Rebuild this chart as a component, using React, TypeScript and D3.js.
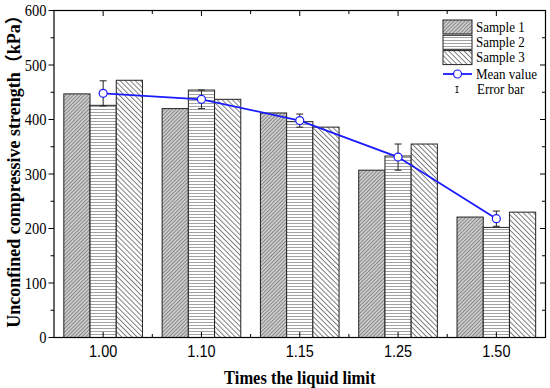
import React from 'react';
import * as d3 from 'd3';

const categories = ['1.00', '1.10', '1.15', '1.25', '1.50'];
const sampleNames = ['Sample 1', 'Sample 2', 'Sample 3'];
const sample1 = [447, 420, 412, 307, 221];
const sample2 = [426, 454, 396, 333, 202];
const sample3 = [472, 437, 386, 355, 230];
const meanValues = [448, 437, 398, 331, 218];
const errorValues = [23, 17, 12, 24, 14];
const yTicks = [0, 100, 200, 300, 400, 500, 600];
const yMinorTicks = [50, 150, 250, 350, 450, 550];

const W = 550;
const H = 388;
const margin = { top: 10.5, right: 4.5, bottom: 50.5, left: 54 };
const serif = '"Times New Roman", "Liberation Serif", "Noto Sans CJK SC", serif';
const sans = 'Arial, "Liberation Sans", sans-serif';
const blue = '#1a1aff';

// text that is a bit taller than wide, as in the source figure
function Label(props: { x: number; y: number; anchor?: string; family: string; size: number; weight?: string; sy?: number; children: React.ReactNode }) {
  const { x, y, anchor = 'start', family, size, weight = 'normal', sy = 1.12, children } = props;
  return (
    <text transform={`translate(${x},${y}) scale(1,${sy})`} textAnchor={anchor}
      fontFamily={family} fontSize={size} fontWeight={weight} fill="#000">{children}</text>
  );
}

export default function App() {
  const left = margin.left;
  const right = W - margin.right;
  const top = margin.top;
  const bottom = H - margin.bottom;

  const x = d3.scaleBand<string>().domain(categories).range([left, right]).padding(0);
  const bw = x.bandwidth();
  const xs = d3.scaleBand<string>().domain(sampleNames).range([bw * 0.1, bw * 0.9]).padding(0);
  const y = d3.scaleLinear().domain([0, 600]).range([bottom, top]);

  const series = [sample1, sample2, sample3];
  const fills = ['url(#pat1)', 'url(#pat2)', 'url(#pat3)'];

  const cx = (c: string) => (x(c) ?? 0) + bw / 2;
  const meanLine = d3.line<number>()
    .x((_, i) => cx(categories[i]))
    .y(d => y(d));

  const xMinor = categories.slice(1).map(c => x(c) ?? 0);
  const major = 5.5;
  const minor = 3.5;

  const legendX = 443;
  const legendRows = [27, 42.3, 57.6, 74, 89.5];

  return (
    <svg width={W} height={H} style={{ position: 'absolute', left: 0, top: 0, background: '#fff' }}>
      <defs>
        <pattern id="pat1" patternUnits="userSpaceOnUse" width={2.6} height={2.6} patternTransform="rotate(45)">
          <rect width={2.6} height={2.6} fill="#cdcdcd" />
          <line x1={0.5} y1={0} x2={0.5} y2={2.6} stroke="#7a7a7a" strokeWidth={0.8} />
        </pattern>
        <pattern id="pat2" patternUnits="userSpaceOnUse" width={6} height={3}>
          <rect width={6} height={3} fill="#fff" />
          <line x1={0} y1={1.5} x2={6} y2={1.5} stroke="#8a8a8a" strokeWidth={0.8} />
        </pattern>
        <pattern id="pat3" patternUnits="userSpaceOnUse" width={3.6} height={3.6} patternTransform="rotate(-45)">
          <rect width={3.6} height={3.6} fill="#fff" />
          <line x1={0.5} y1={0} x2={0.5} y2={3.6} stroke="#555" strokeWidth={0.75} />
        </pattern>
      </defs>

      {/* bars */}
      {categories.map((c, ci) => (
        <g key={c} transform={`translate(${x(c)},0)`}>
          {series.map((s, si) => (
            <rect
              key={si}
              x={xs(sampleNames[si])}
              y={y(s[ci])}
              width={xs.bandwidth()}
              height={bottom - y(s[ci])}
              fill={fills[si]}
              stroke="#222"
              strokeWidth={1}
            />
          ))}
        </g>
      ))}

      {/* error bars */}
      {categories.map((c, i) => {
        const px = cx(c);
        const y1 = y(meanValues[i] + errorValues[i]);
        const y2 = y(meanValues[i] - errorValues[i]);
        return (
          <g key={'e' + c} stroke="#222" strokeWidth={1}>
            <line x1={px} x2={px} y1={y1} y2={y2} />
            <line x1={px - 3.5} x2={px + 3.5} y1={y1} y2={y1} />
            <line x1={px - 3.5} x2={px + 3.5} y1={y2} y2={y2} />
          </g>
        );
      })}

      {/* mean line */}
      <path d={meanLine(meanValues) ?? ''} fill="none" stroke={blue} strokeWidth={1.8} />
      {meanValues.map((v, i) => (
        <circle key={'m' + i} cx={cx(categories[i])} cy={y(v)} r={4} fill="#fff" stroke={blue} strokeWidth={1.2} />
      ))}

      {/* frame */}
      <rect x={left} y={top} width={right - left} height={bottom - top} fill="none" stroke="#000" strokeWidth={1.2} />

      {/* ticks */}
      <g stroke="#000" strokeWidth={1}>
        {yTicks.map(t => (
          <g key={'yt' + t}>
            <line x1={left - major} x2={left} y1={y(t)} y2={y(t)} />
            <line x1={right - major} x2={right} y1={y(t)} y2={y(t)} />
          </g>
        ))}
        {yMinorTicks.map(t => (
          <g key={'ym' + t}>
            <line x1={left - minor} x2={left} y1={y(t)} y2={y(t)} />
            <line x1={right - minor} x2={right} y1={y(t)} y2={y(t)} />
          </g>
        ))}
        {categories.map(c => (
          <g key={'xt' + c}>
            <line x1={cx(c)} x2={cx(c)} y1={bottom} y2={bottom - major} />
            <line x1={cx(c)} x2={cx(c)} y1={top} y2={top + major} />
          </g>
        ))}
        {xMinor.map((m, i) => (
          <g key={'xm' + i}>
            <line x1={m} x2={m} y1={bottom} y2={bottom - minor} />
            <line x1={m} x2={m} y1={top} y2={top + minor} />
          </g>
        ))}
      </g>

      {/* y tick labels */}
      {yTicks.map(t => (
        <Label key={'yl' + t} x={left - 7.5} y={y(t) + 5.6} anchor="end" family={serif} size={14.5}>{t}</Label>
      ))}

      {/* x tick labels */}
      {categories.map(c => (
        <Label key={'xl' + c} x={cx(c)} y={356.7} anchor="middle" family={sans} size={14.5}>{c}</Label>
      ))}

      {/* axis titles */}
      <Label x={(left + right) / 2} y={383.5} anchor="middle" family={serif} weight="bold" size={16.5} sy={1.1}>
        Times the liquid limit
      </Label>
      <text transform={`translate(19.5,${(top + bottom) / 2 - 7}) rotate(-90)`} textAnchor="middle"
        fontFamily={serif} fontWeight="bold" fontSize={18} fill="#000">Unconfined compressive strength（kPa）</text>

      {/* legend */}
      {sampleNames.map((n, i) => (
        <g key={'lg' + n}>
          <rect x={legendX} y={legendRows[i] - 7} width={29} height={14} fill={fills[i]} stroke="#222" strokeWidth={1} />
          <Label x={476} y={legendRows[i] + 4.8} family={serif} size={13}>{n}</Label>
        </g>
      ))}
      <line x1={legendX} x2={legendX + 29} y1={legendRows[3]} y2={legendRows[3]} stroke={blue} strokeWidth={1.8} />
      <circle cx={legendX + 14.5} cy={legendRows[3]} r={4} fill="#fff" stroke={blue} strokeWidth={1.2} />
      <Label x={476} y={legendRows[3] + 4.8} family={serif} size={13}>Mean value</Label>
      <g stroke="#222" strokeWidth={1}>
        <line x1={457} x2={457} y1={legendRows[4] - 3} y2={legendRows[4] + 3} />
        <line x1={455.5} x2={458.5} y1={legendRows[4] - 3} y2={legendRows[4] - 3} />
        <line x1={455.5} x2={458.5} y1={legendRows[4] + 3} y2={legendRows[4] + 3} />
      </g>
      <Label x={477} y={legendRows[4] + 4.8} family={serif} size={13}>Error bar</Label>
    </svg>
  );
}
